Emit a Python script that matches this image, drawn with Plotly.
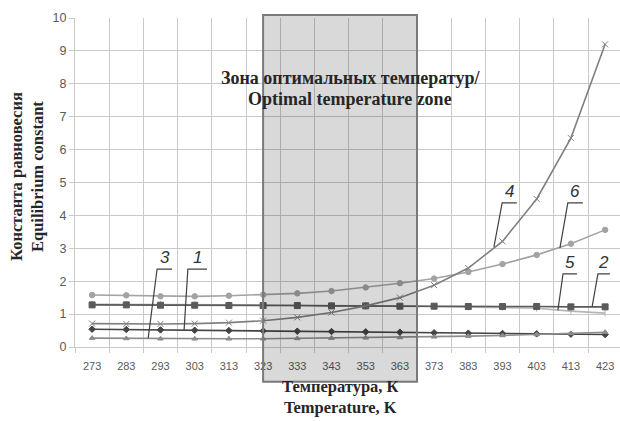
import plotly.graph_objects as go

# Temperature, K
temperature = [273, 283, 293, 303, 313, 323, 333, 343, 353, 363, 373, 383, 393, 403, 413, 423]

# Equilibrium constants for curves 1-6
k1 = [0.54, 0.53, 0.52, 0.51, 0.50, 0.49, 0.48, 0.47, 0.46, 0.45, 0.43, 0.42, 0.41, 0.40, 0.39, 0.38]
k2 = [1.28, 1.28, 1.27, 1.27, 1.26, 1.26, 1.26, 1.25, 1.25, 1.24, 1.24, 1.23, 1.23, 1.23, 1.22, 1.22]
k3 = [0.27, 0.26, 0.25, 0.25, 0.25, 0.25, 0.26, 0.27, 0.28, 0.29, 0.31, 0.33, 0.35, 0.38, 0.41, 0.45]
k4 = [0.71, 0.70, 0.70, 0.71, 0.74, 0.80, 0.90, 1.05, 1.25, 1.50, 1.88, 2.40, 3.21, 4.50, 6.35, 9.20]
k5 = [1.30, 1.30, 1.29, 1.28, 1.28, 1.27, 1.27, 1.26, 1.25, 1.24, 1.23, 1.22, 1.21, 1.18, 1.09, 1.03]
k6 = [1.58, 1.57, 1.54, 1.54, 1.56, 1.59, 1.63, 1.70, 1.81, 1.94, 2.08, 2.28, 2.52, 2.80, 3.14, 3.56]

# Optimal temperature zone (K)
zone = [323, 368]

series = [
    ("6", k6, "#a3a3a3", "circle", 5.5),
    ("5", k5, "#b5b5b5", "line-ns-open", 5),
    ("2", k2, "#5a5a5a", "square", 6),
    ("4", k4, "#808080", "x-thin-open", 6),
    ("1", k1, "#454545", "diamond", 5),
    ("3", k3, "#8c8c8c", "triangle-up", 5),
]

fig = go.Figure()
for name, vals, color, sym, size in series:
    fig.add_trace(go.Scatter(
        x=temperature, y=vals, name=name, mode="lines+markers",
        line=dict(color=color, width=1.6),
        marker=dict(symbol=sym, size=size, color=color, line=dict(color=color, width=1)),
        showlegend=False,
    ))

grid = "#c9c9c9"
fig.update_layout(
    width=620, height=421,
    margin=dict(l=75, r=0, t=18, b=74),
    paper_bgcolor="white", plot_bgcolor="rgba(0,0,0,0)",
    font=dict(family="Liberation Sans", color="#595959"),
    xaxis=dict(
        range=[268, 268 + 545 / 3.42],
        tickmode="array", tickvals=temperature, ticktext=[str(t) for t in temperature],
        showgrid=False, ticks="", ticklabelstandoff=9,
        tickfont=dict(size=11, color="#595959"),
        showline=True, linecolor=grid, linewidth=1.3,
        minor=dict(tick0=268, dtick=10, showgrid=True, gridcolor=grid, gridwidth=1.3,
                   ticks="outside", ticklen=5, tickcolor=grid, tickwidth=1.3),
        zeroline=False,
    ),
    yaxis=dict(
        range=[0, 10], dtick=1, showgrid=True, gridcolor=grid, gridwidth=1.3,
        ticks="outside", ticklen=5, tickcolor=grid, tickwidth=1.3,
        tickfont=dict(size=12.5, color="#595959"),
        showline=True, linecolor=grid, linewidth=1.3, zeroline=False,
    ),
)

# Shaded optimal-temperature zone, extending past the axes
fig.add_shape(type="rect", xref="x", yref="paper",
              x0=zone[0], x1=zone[1], y0=-0.106, y1=1.009,
              fillcolor="rgba(0,0,0,0.15)", line=dict(color="#7a7a7a", width=2),
              layer="above")

serif = dict(family="Liberation Serif", size=18, color="#262626")
fig.add_annotation(x=348.5, y=8.18, xref="x", yref="y", showarrow=False,
                   text="<b>Зона оптимальных температур/</b>", font=serif)
fig.add_annotation(x=348.5, y=7.54, xref="x", yref="y", showarrow=False,
                   text="<b>Optimal temperature zone</b>", font=serif)

# Axis titles, placed in pixels and converted to paper coordinates
title_font = dict(family="Liberation Serif", size=16.5, color="#262626")
px_titles = [
    ("<b>Температура, К<br>Temperature, K</b>", 340, 397, 0),
    ("<b>Константа равновесия<br>Equilibrium constant</b>", 27, 177, -90),
]
for text, px, py, ang in px_titles:
    fig.add_annotation(x=(px - 75) / 545, y=(347 - py) / 329, xref="paper", yref="paper",
                       xanchor="center", yanchor="middle", showarrow=False,
                       textangle=ang, text=text, font=title_font)

# Curve number callouts: (label, point on curve, elbow, end of underline)
callouts = [
    ("3", (289.4, 0.27), (292.0, 2.37), 296.4),
    ("1", (299.9, 0.52), (301.0, 2.37), 306.6),
    ("4", (390.5, 3.04), (392.9, 4.38), 397.2),
    ("6", (409.8, 3.01), (412.1, 4.38), 416.5),
    ("5", (409.2, 1.12), (410.7, 2.22), 414.8),
    ("2", (419.2, 1.22), (420.9, 2.22), 424.4),
]
for label, (xa, ya), (xb, yb), xc in callouts:
    fig.add_shape(type="path", xref="x", yref="y",
                  path=f"M {xa},{ya} L {xb},{yb} L {xc},{yb}",
                  line=dict(color="#404040", width=1.2))
    fig.add_annotation(x=(xb + xc) / 2, y=yb, xref="x", yref="y", yanchor="bottom",
                       showarrow=False, text=f"<i>{label}</i>",
                       font=dict(family="Liberation Sans", size=17, color="#333333"))

fig.write_html("out.html")
